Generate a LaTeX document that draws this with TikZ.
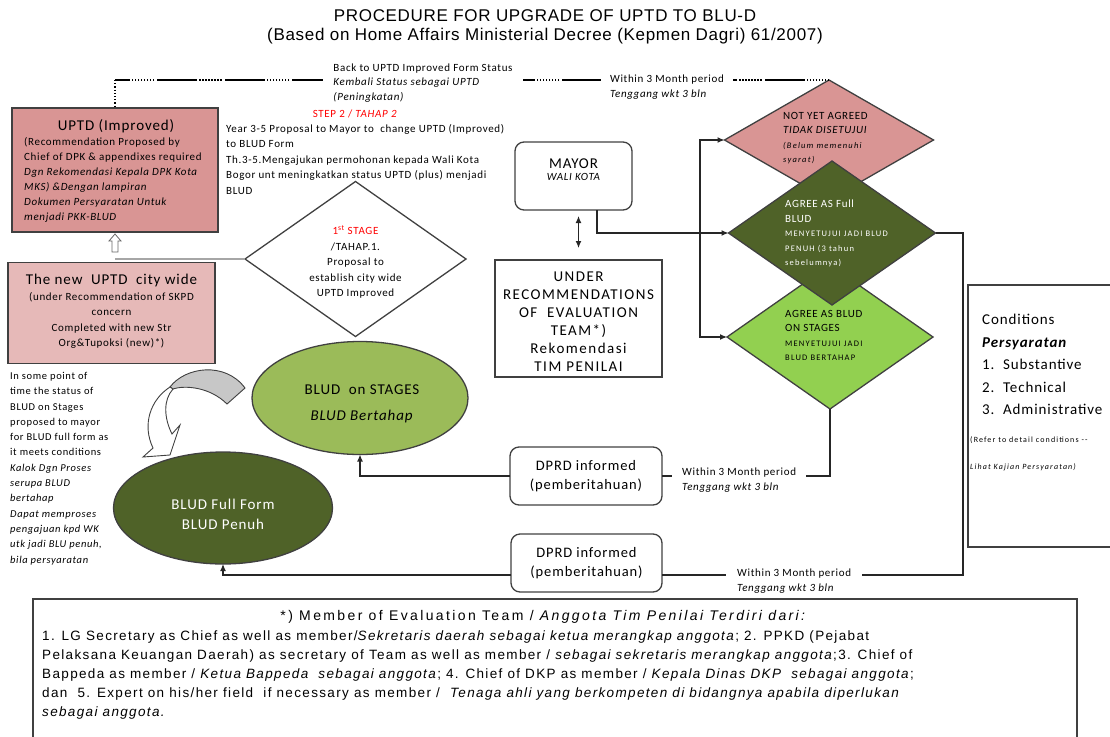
\documentclass[tikz,border=0pt]{standalone}
\usepackage{fontspec}
\setmainfont[LetterSpace=6]{Carlito}
\newfontfamily\widefont[LetterSpace=10]{Carlito}
\newfontfamily\tinyfont[LetterSpace=14]{Carlito}
\newfontfamily\arialfont[LetterSpace=10]{Liberation Sans}
\newfontfamily\titlefont[LetterSpace=4]{Liberation Sans}
\newfontfamily\headfont[LetterSpace=17]{Liberation Sans}
\usetikzlibrary{arrows.meta,shapes.geometric,calc}
\tikzset{>={Latex[width=6pt,length=7pt]}}

\definecolor{uptdpink}{HTML}{D99594}
\definecolor{newpink}{HTML}{E6B9B8}
\definecolor{darkolive}{HTML}{4F6228}
\definecolor{lightgreen}{HTML}{92D050}
\definecolor{midgreen}{HTML}{9BBB59}
\definecolor{arrowgray}{HTML}{A6A6A6}

\tikzset{
  boxline/.style={draw=black!75, line width=1.3pt},
  plainbox/.style={boxline, inner sep=0pt, outer sep=0pt},
  roundbox/.style={boxline, rounded corners=9pt, inner sep=0pt, outer sep=0pt},
  decision/.style={diamond, boxline, inner sep=0pt, outer sep=0pt},
  stateoval/.style={ellipse, boxline, inner sep=0pt, outer sep=0pt},
  smalltxt/.style={font=\fontsize{11}{15.5}\selectfont, align=left, inner sep=0pt},
  decisiontxt/.style={font=\fontsize{11}{14.5}\selectfont, align=left, inner sep=0pt, anchor=north west},
  linktxt/.style={font=\fontsize{11}{14.5}\selectfont, align=left, fill=white},
  flow/.style={line width=1.2pt, black!85},
  topdash/.style={line width=1.2pt, dash pattern=on 1.5pt off 1.5pt on 1.5pt off 1.5pt on 1.5pt off 1.5pt on 1.5pt off 1.5pt on 1.5pt off 1.5pt on 1.5pt off 1.5pt on 1.5pt off 1.5pt on 1.5pt off 2pt on 40pt off 3pt}
}
\newcommand\tinyline[1]{{\tinyfont\fontsize{8.5}{12}\selectfont #1}}

\begin{document}
\begin{tikzpicture}[x=1pt,y=-1pt]
  \useasboundingbox (0,0) rectangle (1110,736);

  %% title
  \node[font=\titlefont\fontsize{17}{19}\selectfont, align=center] (title) at (545,27)
    {PROCEDURE FOR UPGRADE OF UPTD TO BLU-D\\(Based on Home Affairs Ministerial Decree (Kepmen Dagri) 61/2007)};

  %% UPTD boxes on the left
  \node[plainbox, fill=uptdpink, minimum width=206, minimum height=124] (uptdimp) at (115,170) {};
  \node[font=\fontsize{15}{18}\selectfont, inner sep=0pt] (uptdimptitle) at (116,126) {UPTD (Improved)};
  \node[smalltxt, anchor=north west, font=\fontsize{11}{15}\selectfont] (uptdimptext) at (24,137)
    {(Recommendation Proposed by\\Chief of DPK \& appendixes required\\
     \textit{Dgn Rekomendasi Kepala DPK Kota}\\\textit{MKS) \&Dengan lampiran}\\
     \textit{Dokumen Persyaratan Untuk}\\\textit{menjadi PKK-BLUD}};

  \node[plainbox, fill=newpink, minimum width=207, minimum height=101] (uptdnew) at (111.5,313) {};
  \node[smalltxt, align=center, anchor=north] (uptdnewtext) at (111.5,274)
    {{\fontsize{15}{18}\selectfont The new\ \ UPTD\ \ city wide}\\(under Recommendation of SKPD\\
     concern\\Completed with new Str\\Org\&Tupoksi (new)*)};

  %% hollow arrow up
  \coordinate (uparrowbase) at (115,252);
  \draw[black!60, fill=white, line width=0.8pt] (115,234) -- (121,241) -- (118,241) -- (118,252)
    -- (112,252) -- (112,241) -- (109,241) -- cycle;

  %% stage 1
  \node[decision, minimum width=221, minimum height=155] (stageone) at (355.5,259) {};
  \node[smalltxt, align=center] (stageonetext) at (355.5,262)
    {\textcolor{red}{1\textsuperscript{st} STAGE}\\/TAHAP.1.\\Proposal to\\establish city wide\\UPTD Improved};
  \draw[arrowgray, line width=2pt] (stageone.west) -- (stageone.west -| uparrowbase);

  %% step 2
  \node[smalltxt, text=red] (steptwo) at (355,114) {STEP 2 / \textit{TAHAP 2}};
  \node[smalltxt, anchor=north west] (steptwotext) at (226,124)
    {Year 3-5 Proposal to Mayor to\ \ change UPTD (Improved)\\to BLUD Form\\
     Th.3-5.Mengajukan permohonan kepada Wali Kota\\
     Bogor unt meningkatkan status UPTD (plus) menjadi\\BLUD};

  %% mayor and team
  \node[roundbox, minimum width=117, minimum height=68] (mayor) at (573.5,176) {};
  \node[align=center, inner sep=0pt] (mayortext) at (573.5,170)
    {{\fontsize{15}{19}\selectfont MAYOR}\\{\fontsize{11}{13}\selectfont\itshape WALI KOTA}};
  \node[plainbox, minimum width=167, minimum height=117] (evalteam) at (578.5,318.5) {};
  \node[align=center, inner sep=0pt, font=\widefont\fontsize{15}{18}\selectfont] (evalteamtext) at (578.5,322)
    {UNDER\\RECOMMENDATIONS\\OF\ \ EVALUATION\\TEAM*)\\Rekomendasi\\TIM PENILAI};
  \draw[flow, <->, shorten <=6pt, shorten >=12pt] (mayor.south -| evalteam.north) -- (evalteam.north);

  %% decisions
  \node[decision, fill=uptdpink, minimum width=209, minimum height=120] (notagreed) at (829,140) {};
  \node[decision, fill=lightgreen, minimum width=206, minimum height=144] (agreestage) at (830,337) {};
  \node[decision, fill=darkolive, minimum width=207, minimum height=144] (agreefull) at (832,233) {};

  \node[decisiontxt] (notagreedtext) at (783,112)
    {NOT YET AGREED\\\textit{TIDAK DISETUJUI}\\\tinyline{\itshape (Belum memenuhi}\\\tinyline{\itshape syarat)}};
  \node[decisiontxt, text=white] (agreefulltext) at (785,200)
    {AGREE AS Full\\BLUD\\\tinyline{MENYETUJUI JADI BLUD}\\\tinyline{PENUH (3 tahun}\\\tinyline{sebelumnya)}};
  \node[decisiontxt] (agreestagetext) at (785,310)
    {AGREE AS BLUD\\ON STAGES\\\tinyline{MENYETUJUI JADI}\\\tinyline{BLUD BERTAHAP}};

  %% mayor -> decisions
  \coordinate (mayorout) at ($(mayor.south)+(23.5,0)$);
  \coordinate (split) at (700,233);
  \draw[flow] (mayorout) |- (split);
  \draw[flow, ->] (split) -- (agreefull.west);
  \draw[flow, ->] (split) |- (notagreed.west);
  \draw[flow, ->] (split) |- (agreestage.west);

  %% back to UPTD (Improved)
  \coordinate (backcorner) at (notagreed.north -| uptdimp.north);
  \draw[topdash] (notagreed.north) -- (backcorner);
  \draw[line width=1.2pt, dotted] (backcorner) -- (uptdimp.north);
  \node[linktxt, inner xsep=10pt, inner ysep=1pt] (backlabel) at (423,83)
    {Back to UPTD Improved Form Status\\\textit{Kembali Status sebagai UPTD}\\\textit{(Peningkatan)}};
  \node[linktxt, inner xsep=9pt, inner ysep=1pt] (backwithin) at (667,87)
    {Within 3 Month period\\\textit{Tenggang wkt 3 bln}};

  %% conditions
  \node[plainbox, minimum width=150, minimum height=262, anchor=north west] (conditions) at (968,285) {};
  \node[align=left, inner sep=0pt, anchor=north west, font=\fontsize{15}{22.5}\selectfont] (conditionstext) at (982,314)
    {Conditions\\\textbf{\textit{Persyaratan}}\\1.\ \ Substantive\\2.\ \ Technical\\3.\ \ Administrative};
  \node[align=left, inner sep=0pt, anchor=north west, font=\tinyfont\fontsize{8}{27}\selectfont] (conditionsnote) at (970,436)
    {(Refer to detail conditions --\\\textit{Lihat Kajian Persyaratan)}};

  %% BLUD ovals
  \node[stateoval, fill=midgreen, minimum width=216, minimum height=113] (bludstage) at (360,398) {};
  \node[align=center, inner sep=0pt, font=\fontsize{15}{26}\selectfont] (bludstagetext) at (362,404)
    {BLUD\ \ on STAGES\\\textit{BLUD Bertahap}};
  \node[stateoval, fill=darkolive, minimum width=219, minimum height=112] (bludfull) at (223,508) {};
  \node[align=center, inner sep=0pt, text=white, font=\fontsize{15}{20}\selectfont] (bludfulltext) at (223,514)
    {BLUD Full Form\\BLUD Penuh};

  %% curved arrow stages -> full
  \filldraw[fill=black!22, draw=black!75, line width=0.9pt] (170,387) .. controls (185,367) and (225,361) .. (245,388)
    -- (227,404) .. controls (210,387) and (185,385) .. (173,389) -- cycle;
  \filldraw[fill=white, draw=black!75, line width=0.9pt] (170,387) .. controls (150,400) and (142,425) .. (153,448)
    -- (143,457) -- (170,455) -- (180,425) -- (172,434) .. controls (164,418) and (163,400) .. (173,389) -- cycle;

  %% left note
  \node[font=\fontsize{10.5}{15.3}\selectfont, align=left, inner sep=0pt, anchor=north west] (stagenote) at (10,372)
    {In some point of\\time the status of\\BLUD on Stages\\proposed to mayor\\for BLUD full form as\\it meets conditions\\
     \textit{Kalok Dgn Proses}\\\textit{serupa BLUD}\\\textit{bertahap}\\\textit{Dapat memproses}\\
     \textit{pengajuan kpd WK}\\\textit{utk jadi BLU penuh,}\\\textit{bila persyaratan}};

  %% DPRD informed
  \node[roundbox, minimum width=152, minimum height=58, align=center, font=\fontsize{14.5}{19}\selectfont] (dprdA) at (586,476)
    {DPRD informed\\(pemberitahuan)};
  \node[roundbox, minimum width=151, minimum height=58, align=center, font=\fontsize{14.5}{19}\selectfont] (dprdB) at (586.5,563)
    {DPRD informed\\(pemberitahuan)};

  \draw[flow] (agreestage.south) |- (dprdA.east);
  \draw[flow, ->] (dprdA.west) -| (bludstage.south);
  \node[linktxt, inner xsep=10pt, inner ysep=1pt, anchor=west] (withinA) at (672,480)
    {Within 3 Month period\\\textit{Tenggang wkt 3 bln}};

  \coordinate (fullcorner) at (963,575);
  \draw[flow] (agreefull.east) -| (fullcorner) -- (fullcorner -| dprdB.east);
  \draw[flow, ->] (dprdB.west |- fullcorner) -| (bludfull.south);
  \node[linktxt, inner xsep=11pt, inner ysep=1pt, anchor=west] (withinB) at (726,581)
    {Within 3 Month period\\\textit{Tenggang wkt 3 bln}};

  %% team members
  \node[plainbox, minimum width=1044, minimum height=150, anchor=north west] (members) at (33,599) {};
  \node[font=\headfont\fontsize{14}{19}\selectfont, inner sep=0pt] (memberstitle) at (544,617)
    {*) Member of Evaluation Team / \textit{Anggota Tim Penilai Terdiri dari:}};
  \node[font=\arialfont\fontsize{13.5}{19}\selectfont, align=left, inner sep=0pt, anchor=north west] (memberstext) at (42,631)
    {1. LG Secretary as Chief as well as member/\textit{Sekretaris daerah sebagai ketua merangkap anggota}; 2. PPKD (Pejabat\\
     Pelaksana Keuangan Daerah) as secretary of Team as well as member / \textit{sebagai sekretaris merangkap anggota};3. Chief of\\
     Bappeda as member / \textit{Ketua Bappeda\ \ sebagai anggota}; 4. Chief of DKP as member / \textit{Kepala Dinas DKP\ \ sebagai anggota};\\
     dan\ \ 5. Expert on his/her field\ \ if necessary as member /\ \ \textit{Tenaga ahli yang berkompeten di bidangnya apabila diperlukan}\\
     \textit{sebagai anggota.}};
\end{tikzpicture}
\end{document}
